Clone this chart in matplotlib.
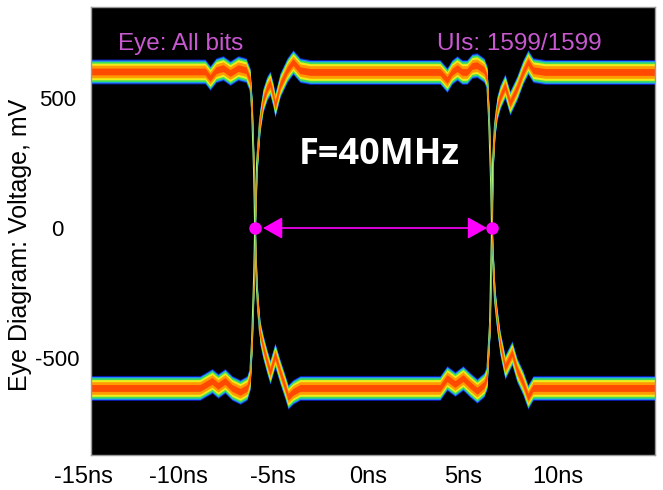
import matplotlib
matplotlib.use('Agg')
import numpy as np
import matplotlib.pyplot as plt
import matplotlib.transforms as mtransforms

plt.rcParams['font.family'] = ['Liberation Sans', 'DejaVu Sans']

# trace that starts high: falls at the first crossing, rises at the second (ns, mV)
t_a = [-14.62, -8.60, -8.34, -8.02, -7.65, -7.28, -6.86, -6.44, -6.23, -6.12, -6.02, -5.96,
       -5.91, -5.86, -5.80, -5.70, -5.54, -5.33, -5.17, -4.91, -4.64, -4.38, -4.22, -3.96, -3.59,
       3.80, 4.17, 4.59, 5.01, 5.38, 5.75, 6.12, 6.28, 6.44, 6.54,
       6.60, 6.70, 6.81, 6.97, 7.23, 7.49, 7.86, 8.18, 8.44, 8.71, 9.34, 15.15]
v_a = [600, 600, 575, 605, 613, 594, 613, 605, 567, 452, 222, 0,
       -142, -238, -314, -402, -456, -513, -552, -487, -552, -609, -647, -628, -613,
       -613, -575, -598, -575, -601, -624, -601, -571, -364, 0,
       261, 395, 460, 502, 544, 479, 536, 598, 636, 605, 598, 598]

# trace that starts low: rises at the first crossing, falls at the second
t_b = [-14.62, -8.87, -8.23, -7.92, -7.55, -7.18, -6.75, -6.39, -6.23, -6.12, -6.02, -5.96,
       -5.86, -5.70, -5.54, -5.33, -5.17, -5.01, -4.91, -4.64, -4.27, -3.96, -3.59, -3.06,
       3.80, 4.17, 4.43, 4.70, 4.96, 5.22, 5.49, 5.75, 6.12, 6.28, 6.39, 6.49, 6.54,
       6.60, 6.70, 6.81, 6.97, 7.23, 7.60, 7.86, 8.18, 8.44, 8.71, 9.34, 15.15]
v_b = [-613, -613, -586, -605, -586, -613, -628, -613, -575, -429, -199, 0,
       249, 414, 490, 536, 555, 510, 471, 548, 605, 636, 605, 598,
       598, 567, 598, 613, 598, 598, 621, 624, 605, 575, 414, 184, 0,
       -123, -276, -352, -441, -533, -479, -544, -594, -647, -613, -613, -613]

# eye width marker
cross_t = [-5.96, 6.54]
arrow_t = [-5.54, 6.28]

x_ticks = [-10, -5, 0, 5, 10]
x_labels = ['-10ns', '-5ns', '0ns', '5ns', '10ns']
y_ticks = [500, 0, -500]
y_labels = ['500', '0', '-500']

# density colour layers (half width in mV, colour), outer to inner
layers = [(48, '#0a1aa8'), (44, '#1e8cff'), (39, '#3ee05a'),
          (32, '#f0ee1a'), (24, '#ff9a00'), (13, '#ff4a00')]

fig = plt.figure(figsize=(6.63, 4.90), dpi=100)
ax = fig.add_axes([0.1373, 0.0714, 0.8507, 0.9143])
ax.set_facecolor('black')

ta, va = np.array(t_a), np.array(v_a)
tb, vb = np.array(t_b), np.array(v_b)

# thin edge traces underneath the bands
ax.plot(ta, va, color='#a8f07a', lw=1.4, zorder=1)
ax.plot(tb, vb, color='#a8f07a', lw=1.4, zorder=1)
for w, c in layers:
    ax.fill_between(ta, va - w, va + w, color=c, lw=0, zorder=2)
    ax.fill_between(tb, vb - w, vb + w, color=c, lw=0, zorder=2)

ax.annotate('', xy=(arrow_t[0], 0), xytext=(arrow_t[1], 0),
            arrowprops=dict(arrowstyle='<|-|>,head_length=0.8,head_width=0.45',
                            color='#ff00ff', lw=1.2, mutation_scale=15,
                            shrinkA=0, shrinkB=0), zorder=5)
ax.plot(cross_t, [0, 0], 'o', color='#ff00ff', ms=8, zorder=6)

ax.set_xlim(-14.62, 15.15)
ax.set_ylim(-870, 847)
xpad = 8
ax.set_xticks(x_ticks)
ax.set_xticklabels(x_labels, fontsize=17)
ax.set_yticks(y_ticks)
ax.set_yticklabels(y_labels, fontsize=16)
ax.tick_params(axis='x', length=0, pad=xpad)
ax.tick_params(axis='y', length=0, pad=24)
for lab in ax.get_yticklabels():
    lab.set_horizontalalignment('center')

# -15ns sits just left of the plotted range
trans = mtransforms.blended_transform_factory(ax.transData, ax.transAxes)
trans = trans + mtransforms.ScaledTranslation(0, -xpad / 72, fig.dpi_scale_trans)
ax.text(-15, 0, '-15ns', transform=trans, fontsize=17, ha='center', va='top',
        clip_on=False)

ax.set_ylabel('Eye Diagram: Voltage, mV', fontsize=18)
ax.yaxis.set_label_coords(-0.105, 0.47)

for s in ax.spines.values():
    s.set_color('#9a9a9a')
    s.set_linewidth(1)

ax.text(0.048, 0.917, 'Eye: All bits', transform=ax.transAxes, color='#c858d0',
        fontsize=17.5, ha='left', va='center')
ax.text(0.906, 0.917, 'UIs: 1599/1599', transform=ax.transAxes, color='#c858d0',
        fontsize=17.5, ha='right', va='center')
ax.text(0.512, 0.67, 'F=40MHz', transform=ax.transAxes, color='white',
        fontsize=26, fontweight='bold', family='Open Sans', ha='center', va='center')

fig.savefig('out.png', dpi=100)
